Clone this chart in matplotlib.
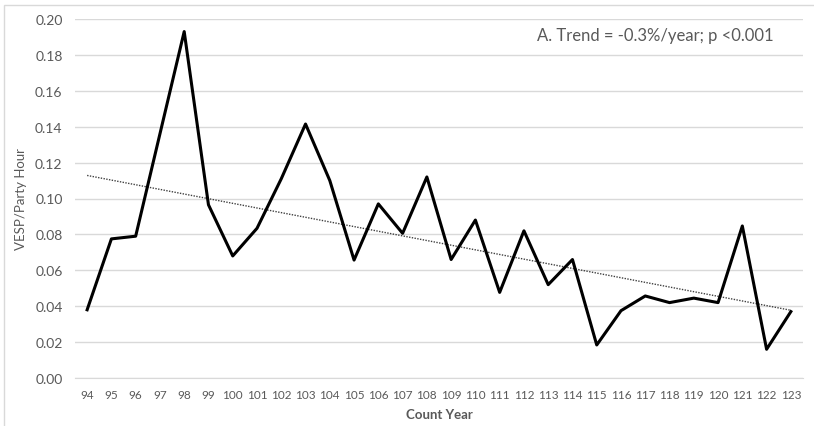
import numpy as np
import matplotlib.pyplot as plt
from matplotlib.patches import Rectangle

years = list(range(94, 124))
rate = [0.038, 0.0775, 0.079, 0.136, 0.193, 0.0965, 0.068, 0.0834, 0.111, 0.1415,
        0.110, 0.0657, 0.097, 0.0806, 0.112, 0.066, 0.088, 0.0477, 0.082, 0.052,
        0.066, 0.0184, 0.0375, 0.0457, 0.042, 0.0445, 0.042, 0.0847, 0.016, 0.037]
note = "A. Trend = -0.3%/year; p <0.001"

grey = "#595959"
plt.rcParams['font.family'] = ['Lato', 'DejaVu Sans']

fig = plt.figure(figsize=(8.14, 4.27), dpi=100)
ax = fig.add_axes([75 / 814, 1 - 379 / 427, 728 / 814, 359 / 427])

x = np.arange(len(years))
ax.plot(x, rate, color="black", linewidth=2.2, zorder=3)

# linear trend line
coef = np.polyfit(x, rate, 1)
ax.plot(x, np.polyval(coef, x), color="#404040", linestyle=(0, (1, 1)),
        linewidth=1.0, zorder=2)

ax.set_xlim(-0.5, len(years) - 0.5)
ax.set_ylim(0, 0.2)
ax.set_yticks(np.arange(0, 0.201, 0.02))
ax.set_yticklabels([f"{v:.2f}" for v in np.arange(0, 0.201, 0.02)])
ax.set_xticks(x)
ax.set_xticklabels([str(y) for y in years])
ax.tick_params(length=0, colors=grey, labelsize=8.5)
ax.tick_params(axis="y", pad=9, labelsize=10)
ax.tick_params(axis="x", pad=8)
ax.grid(axis="y", color="#d9d9d9", linewidth=1)
ax.set_axisbelow(True)
for s in ["top", "right", "left"]:
    ax.spines[s].set_visible(False)
ax.spines["bottom"].set_color("#d9d9d9")

ax.set_ylabel("VESP/Party Hour", color=grey, fontsize=9.5, labelpad=6)
ax.set_xlabel("Count Year", color=grey, fontsize=9.5, fontweight="bold", labelpad=6)
ax.text(0.96, 0.955, note, transform=ax.transAxes, ha="right", va="center",
        color=grey, fontsize=12)

fig.patches.append(Rectangle((4 / 814, -0.01), 1, 1 - 6 / 427 + 0.01,
                             transform=fig.transFigure, fill=False,
                             edgecolor="#d9d9d9", linewidth=1))

fig.savefig("out.png", dpi=100)
